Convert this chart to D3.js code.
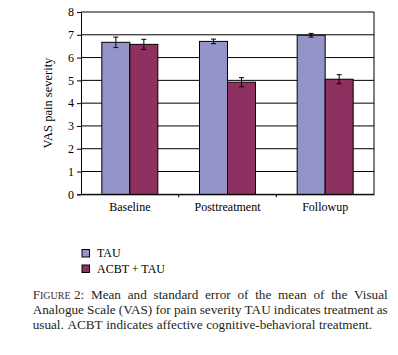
<!DOCTYPE html>
<html><head><meta charset="utf-8">
<script src="https://cdn.jsdelivr.net/npm/d3@7"></script>
<style>
body{margin:0;background:#fff;}
svg{display:block;font-family:"Liberation Serif","Times New Roman",serif;}
</style></head>
<body>
<svg id="c" width="398" height="355"></svg>
<script>
const categories = ["Baseline","Posttreatment","Followup"];
const seriesNames = ["TAU","ACBT + TAU"];
const tauMeans = [6.67, 6.71, 6.98];
const tauErr = [0.23, 0.10, 0.08];
const acbtMeans = [6.58, 4.92, 5.05];
const acbtErr = [0.22, 0.20, 0.20];
const yTicks = [0,1,2,3,4,5,6,7,8];
const colors = ["#9594C8","#8E3160"];
const captionLines = [
  [["Figure 2:",true],"Mean","and","standard","error","of","the","mean","of","the","Visual"],
  ["Analogue","Scale","(VAS)","for","pain","severity","TAU","indicates","treatment","as"],
  ["usual.","ACBT","indicates","affective","cognitive-behavioral","treatment."]
];

const svg = d3.select("#c");
const m = {l:81, r:374, t:12, b:194.3};
const x = d3.scaleBand().domain(categories).range([m.l, m.r]);
const y = d3.scaleLinear().domain([0,8]).range([m.b, m.t]);
const xs = d3.scaleBand().domain([0,1]).range([0,56]);

svg.append("g").selectAll("line").data(yTicks).join("line")
  .attr("x1",m.l).attr("x2",m.r).attr("y1",d=>y(d)).attr("y2",d=>y(d))
  .attr("stroke","#000").attr("stroke-width",1);
svg.append("line").attr("x1",m.r).attr("x2",m.r).attr("y1",m.t).attr("y2",m.b).attr("stroke","#000");

const data = categories.map((c,i)=>({c, vals:[
  {s:0,v:tauMeans[i],e:tauErr[i]},{s:1,v:acbtMeans[i],e:acbtErr[i]}]}));

const g = svg.append("g").selectAll("g").data(data).join("g")
  .attr("transform",d=>`translate(${x(d.c)+x.bandwidth()/2-28},0)`);
g.selectAll("rect").data(d=>d.vals).join("rect")
  .attr("x",d=>xs(d.s)).attr("width",xs.bandwidth())
  .attr("y",d=>y(d.v)).attr("height",d=>y(0)-y(d.v))
  .attr("fill",d=>colors[d.s]).attr("stroke","#000").attr("stroke-width",1);
const eb = g.selectAll("g.eb").data(d=>d.vals).join("g").attr("class","eb")
  .attr("transform",d=>`translate(${xs(d.s)+xs.bandwidth()/2},0)`);
eb.append("line").attr("y1",d=>y(d.v+d.e)).attr("y2",d=>y(d.v-d.e)).attr("stroke","#000");
eb.append("line").attr("x1",-2.5).attr("x2",2.5).attr("y1",d=>y(d.v+d.e)).attr("y2",d=>y(d.v+d.e)).attr("stroke","#000");
eb.append("line").attr("x1",-2.5).attr("x2",2.5).attr("y1",d=>y(d.v-d.e)).attr("y2",d=>y(d.v-d.e)).attr("stroke","#000");

const ya = svg.append("g").attr("transform",`translate(${m.l},0)`)
  .call(d3.axisLeft(y).tickValues(yTicks).tickSize(4).tickPadding(3).tickFormat(d3.format("d")));
ya.select(".domain").attr("stroke","#000");
ya.selectAll("text").attr("font-size",12).attr("font-family","Liberation Serif").attr("fill","#000");
const xa = svg.append("g").attr("transform",`translate(0,${m.b})`)
  .call(d3.axisBottom(x).tickSize(0).tickPadding(8));
xa.select(".domain").attr("stroke","#000");
xa.selectAll("text").attr("font-size",12).attr("font-family","Liberation Serif").attr("fill","#000");
xa.selectAll("line.sep").data(categories.slice(1)).join("line").attr("class","sep")
  .attr("x1",d=>x(d)).attr("x2",d=>x(d)).attr("y1",0).attr("y2",3).attr("stroke","#000");

svg.append("text").attr("transform","translate(52,103) rotate(-90)")
  .attr("text-anchor","middle").attr("font-size",12.5).text("VAS pain severity");

const lg = svg.append("g").selectAll("g").data(seriesNames).join("g")
  .attr("transform",(d,i)=>`translate(82,${249.5+i*15.5})`);
lg.append("rect").attr("width",7.5).attr("height",7.5).attr("fill",(d,i)=>colors[i]).attr("stroke","#000");
lg.append("text").attr("x",15).attr("y",7.5).attr("font-size",12).text(d=>d);

const cap = svg.append("g").attr("font-size",13.2).attr("fill","#231f20");
const left = 32.7, right = 387.7, lineY = [298.5, 313.8, 329];
captionLines.forEach((words,li)=>{
  const nodes = words.map(w=>{
    const t = cap.append("text").attr("y",lineY[li]);
    if (Array.isArray(w)) {
      t.attr("fill","#3d2b2b");
      t.append("tspan").text("F");
      t.append("tspan").attr("font-size",10).text("IGURE");
      t.append("tspan").text(" 2:");
    } else t.text(w);
    return t;
  });
  const widths = nodes.map(n=>n.node().getComputedTextLength());
  const total = d3.sum(widths);
  const last = li === captionLines.length-1;
  const gap = last ? 3.6 : (right-left-total)/(nodes.length-1);
  let cx = left;
  nodes.forEach((n,i)=>{ n.attr("x",cx); cx += widths[i]+gap; });
});
</script>
</body></html>
